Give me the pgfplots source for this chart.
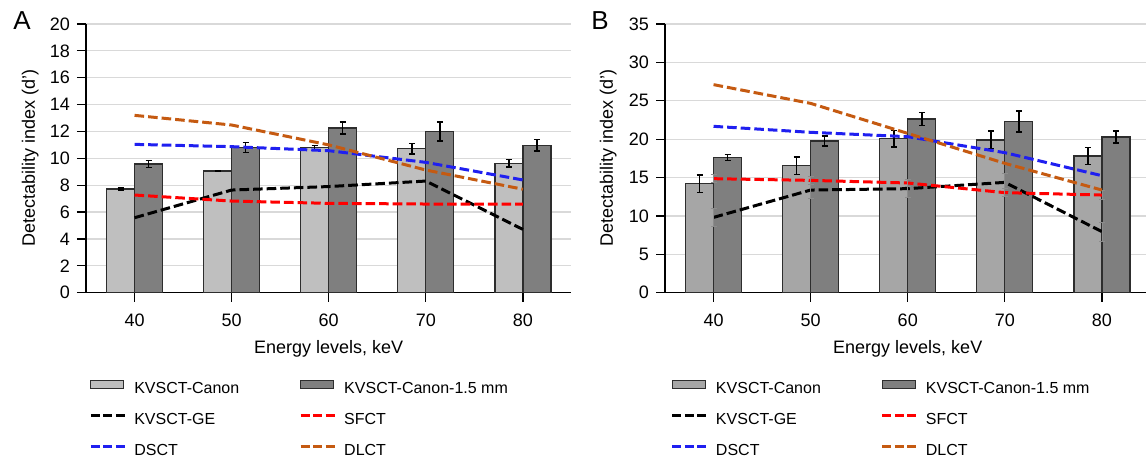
\documentclass[border=0pt]{standalone}
\usepackage{fontspec}
\setmainfont{Liberation Sans}
\usepackage{pgfplots}
\pgfplotsset{compat=1.18}

\definecolor{lightA}{RGB}{191,191,191}
\definecolor{lightB}{RGB}{166,166,166}
\definecolor{darkbar}{RGB}{127,127,127}
\definecolor{baredge}{RGB}{45,45,45}
\definecolor{gridgray}{RGB}{217,217,217}
\definecolor{dsct}{RGB}{31,31,240}
\definecolor{sfct}{RGB}{255,0,0}
\definecolor{dlct}{RGB}{197,90,17}
\definecolor{errgray}{RGB}{140,140,140}

% bars sit at category -/+ 0.1442 (7pt at 48.55pt per category)
\pgfplotsset{
  panel/.style={
    scale only axis, width=242.75pt, height=134.35pt,
    xmin=-0.5, xmax=4.5, ymin=0,
    axis x line*=bottom, axis y line*=left,
    axis line style={black, line width=0.6pt},
    tick pos=left, tick align=outside, major tick length=4.5pt,
    tick style={black, line width=0.6pt},
    xtick={0,...,4}, xticklabels={40,50,60,70,80},
    xticklabel style={yshift=-2.5pt},
    ymajorgrids, grid style={gridgray, line width=0.6pt},
    ticklabel style={font=\fontsize{9}{10}\selectfont},
    /pgf/number format/assume math mode=true,
    xlabel={Energy levels, keV}, ylabel={Detectability index (d’)},
    label style={font=\fontsize{9}{10}\selectfont},
    xlabel style={at={(axis description cs:0.5,-0.21)}, anchor=center},
    legend columns=2, legend cell align=left,
    legend style={draw=none, fill=none, inner sep=0pt,
      font=\fontsize{8}{9}\selectfont, anchor=north west,
      row sep=7.7pt, cells={anchor=west},
      nodes={inner sep=0pt, text height=6pt, text depth=1.7pt},
      /tikz/every odd column/.append style={column sep=4pt},
      /tikz/every even column/.append style={column sep=30pt}},
  },
  barbase/.style={ybar, bar width=14pt, bar shift=0pt, draw=baredge, line width=0.6pt,
    legend image code/.code={\draw[##1, line width=0.6pt] (0pt,0.4pt) rectangle (16.5pt,4.2pt);},
    error bars/.cd, y dir=both, y explicit,
    error bar style={black, line width=0.75pt},
    error mark options={rotate=90, black, line width=0.75pt, mark size=1.5pt},
    /pgfplots/.cd},
  dline/.style={#1, line width=1.5pt, dash pattern=on 4.8pt off 2pt, mark=none,
    legend image code/.code={\draw[##1, dash pattern=on 4.5pt off 1.75pt] (0pt,2.3pt) -- (17pt,2.3pt);}},
  greyerr/.style={error bars/.cd, y dir=both, y explicit,
    error bar style={errgray, line width=0.45pt, solid},
    error mark options={rotate=90, errgray, line width=0.45pt, mark size=1.5pt, solid},
    /pgfplots/.cd},
}

\begin{document}
\begin{tikzpicture}
\path[use as bounding box] (0,0) rectangle (573pt,229.5pt);

% panel A
\begin{axis}[panel, at={(43pt,83.15pt)}, anchor=south west,
  ymax=20, ytick={0,2,...,20},
  ylabel style={at={(axis description cs:-0.115,0.5)}, anchor=center},
  legend style={at={(0.006,-0.324)}}]
\addplot[fill=lightA, barbase] coordinates {
  (-0.1442,7.72) +- (0,0.06) (0.8558,9.06) +- (0,0.04) (1.8558,10.82) +- (0,0.15)
  (2.8558,10.72) +- (0,0.38) (3.8558,9.63) +- (0,0.28)};
\addplot[fill=darkbar, barbase] coordinates {
  (0.1442,9.58) +- (0,0.25) (1.1442,10.82) +- (0,0.37) (2.1442,12.26) +- (0,0.45)
  (3.1442,12.00) +- (0,0.70) (4.1442,10.97) +- (0,0.43)};
\addplot[dline=black] coordinates {(0,5.58) (1,7.64) (2,7.90) (3,8.31) (4,4.71)};
\addplot[dline=sfct] coordinates {(0,7.27) (1,6.82) (2,6.65) (3,6.60) (4,6.60)};
\addplot[dline=dsct] coordinates {(0,11.04) (1,10.87) (2,10.57) (3,9.70) (4,8.39)};
\addplot[dline=dlct] coordinates {(0,13.20) (1,12.48) (2,11.00) (3,9.13) (4,7.70)};
\legend{KVSCT-Canon, KVSCT-Canon-1.5 mm, KVSCT-GE, SFCT, DSCT, DLCT}
\end{axis}

% panel B
\begin{axis}[panel, at={(332.5pt,83.15pt)}, anchor=south west,
  ymax=35, ytick={0,5,...,35},
  ylabel style={at={(axis description cs:-0.117,0.5)}, anchor=center},
  legend style={at={(0.0115,-0.324)}}]
\addplot[fill=lightB, barbase] coordinates {
  (-0.1442,14.20) +- (0,1.15) (0.8558,16.54) +- (0,1.13) (1.8558,20.06) +- (0,1.06)
  (2.8558,19.90) +- (0,1.13) (3.8558,17.80) +- (0,1.10)};
\addplot[fill=darkbar, barbase] coordinates {
  (0.1442,17.60) +- (0,0.40) (1.1442,19.76) +- (0,0.67) (2.1442,22.62) +- (0,0.87)
  (3.1442,22.28) +- (0,1.37) (4.1442,20.28) +- (0,0.78)};
\addplot[dline=black, greyerr] coordinates {
  (0,9.81) +- (0,1.20) (1,13.37) +- (0,1.10) (2,13.55) +- (0,1.15)
  (3,14.37) +- (0,1.20) (4,7.95) +- (0,1.25)};
\addplot[dline=sfct, greyerr] coordinates {
  (0,14.85) +- (0,0.50) (1,14.63) +- (0,0.50) (2,14.29) +- (0,0.45)
  (3,13.03) +- (0,0.50) (4,12.72) +- (0,0.60)};
\addplot[dline=dsct] coordinates {(0,21.67) (1,20.89) (2,20.32) (3,18.24) (4,15.24)};
\addplot[dline=dlct] coordinates {(0,27.10) (1,24.66) (2,20.75) (3,16.85) (4,13.37)};
\legend{KVSCT-Canon, KVSCT-Canon-1.5 mm, KVSCT-GE, SFCT, DSCT, DLCT}
\end{axis}

\node[font=\fontsize{13}{14}\selectfont] at (11pt,219pt) {A};
\node[font=\fontsize{13}{14}\selectfont] at (300pt,219pt) {B};
\end{tikzpicture}
\end{document}
